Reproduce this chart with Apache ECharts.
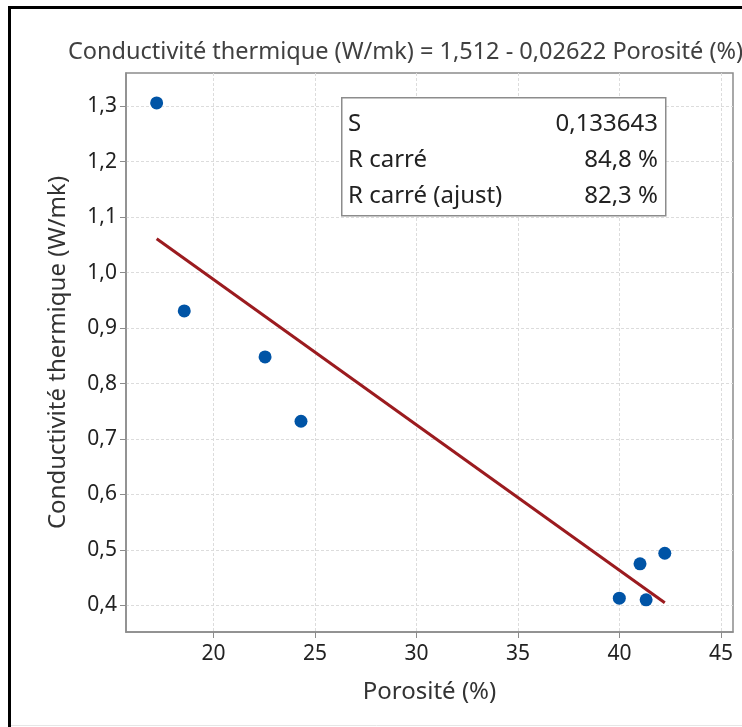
<!DOCTYPE html>
<html>
<head>
<meta charset="utf-8">
<script src="https://cdn.jsdelivr.net/npm/echarts@6/dist/echarts.min.js"></script>
<style>
    html, body {margin: 0; padding: 0; background: #fff;}
    #app {width: 742px; height: 727px;}
</style>
</head>
<body>
<div id="app"></div>
<script>
    //données
    var porosite = [17.2, 18.56, 22.54, 24.31, 39.99, 41.01, 41.31, 42.23]
    var conductivite = [1.306, 0.931, 0.848, 0.732, 0.413, 0.475, 0.410, 0.494]
    var xTicks = [20, 25, 30, 35, 40, 45]
    var yTicks = [0.4, 0.5, 0.6, 0.7, 0.8, 0.9, 1.0, 1.1, 1.2, 1.3]

    //droite de régression
    var intercept = 1.512
    var slope = -0.02622

    //statistiques
    var statLabels = ['S', 'R carré', 'R carré (ajust)']
    var statValues = ['0,133643', '84,8 %', '82,3 %']

    var font = '"Noto Sans", sans-serif'
    var points = porosite.map((x, i) => [x, conductivite[i]])
    var xMin = Math.min.apply(null, porosite)
    var xMax = Math.max.apply(null, porosite)
    var fitLine = [[xMin, intercept + slope * xMin], [xMax, intercept + slope * xMax]]

    var comma = (v) => String(v).replace('.', ',')
    var yLabel = (v) => v.toFixed(1).replace('.', ',')

    var statGraphics = []
    for (var i = 0; i < statLabels.length; i++) {
        statGraphics.push({
            type: 'text', x: 348, y: 124.5 + i * 35.8, z: 11,
            style: {text: statLabels[i], fontSize: 24, fontFamily: font, fill: '#222', verticalAlign: 'middle'}
        })
        statGraphics.push({
            type: 'text', x: 658, y: 124.5 + i * 35.8, z: 11,
            style: {text: statValues[i], fontSize: 24, fontFamily: font, fill: '#222', align: 'right', verticalAlign: 'middle'}
        })
    }

    var chart = echarts.init(document.getElementById('app'))

    chart.setOption({
        animation: false,
        title: {
            text: 'Conductivité thermique (W/mk) = 1,512 - 0,02622 Porosité (%)',
            left: 63,
            top: 35,
            textStyle: {fontSize: 23.5, fontWeight: 'normal', color: '#404040', fontFamily: font}
        },
        grid: {
            left: 126, top: 73, right: 9, bottom: 95,
            show: true, borderColor: '#8c8c8c', borderWidth: 1.5, backgroundColor: '#fff'
        },
        xAxis: {
            type: 'value',
            min: 15.69,
            max: 45.59,
            name: 'Porosité (%)',
            nameLocation: 'middle',
            nameGap: 48,
            nameTextStyle: {fontSize: 24, color: '#333', fontFamily: font},
            axisLine: {show: true, lineStyle: {color: '#8c8c8c', width: 1.5}},
            axisTick: {show: true, length: 6, customValues: xTicks, lineStyle: {color: '#8c8c8c'}},
            axisLabel: {customValues: xTicks, fontSize: 21, color: '#222', margin: 12, fontFamily: font, formatter: comma},
            splitLine: {show: true, lineStyle: {color: '#dcdcdc', type: [3, 2]}}
        },
        yAxis: {
            type: 'value',
            min: 0.352,
            max: 1.36,
            name: 'Conductivité thermique (W/mk)',
            nameLocation: 'middle',
            nameRotate: 90,
            nameGap: 56,
            nameTextStyle: {fontSize: 24, color: '#333', fontFamily: font},
            axisLine: {show: true, lineStyle: {color: '#8c8c8c', width: 1.5}},
            axisTick: {show: true, length: 6, customValues: yTicks, lineStyle: {color: '#8c8c8c'}},
            axisLabel: {customValues: yTicks, fontSize: 21, color: '#222', margin: 9, fontFamily: font, formatter: yLabel},
            splitLine: {show: true, lineStyle: {color: '#dcdcdc', type: [3, 2]}}
        },
        graphic: [
            //cadre extérieur
            {type: 'line', shape: {x1: 9.5, y1: 6, x2: 9.5, y2: 727}, style: {stroke: '#000', lineWidth: 3}},
            {type: 'line', shape: {x1: 8, y1: 7.5, x2: 742, y2: 7.5}, style: {stroke: '#000', lineWidth: 3}},
            {type: 'line', shape: {x1: 11, y1: 725.5, x2: 742, y2: 725.5}, style: {stroke: '#e6e6e6', lineWidth: 1}},
            //encadré des statistiques
            {type: 'rect', left: 341, top: 97, z: 10, shape: {width: 324, height: 118},
                style: {fill: '#fff', stroke: '#8c8c8c', lineWidth: 1.5}}
        ].concat(statGraphics),
        series: [
            {
                type: 'line',
                data: fitLine,
                symbol: 'none',
                lineStyle: {color: '#9b1b1f', width: 3},
                z: 2
            },
            {
                type: 'scatter',
                data: points,
                symbol: 'circle',
                symbolSize: 13,
                itemStyle: {color: '#0054a6', opacity: 1},
                z: 3
            }
        ]
    })
</script>
</body>
</html>
